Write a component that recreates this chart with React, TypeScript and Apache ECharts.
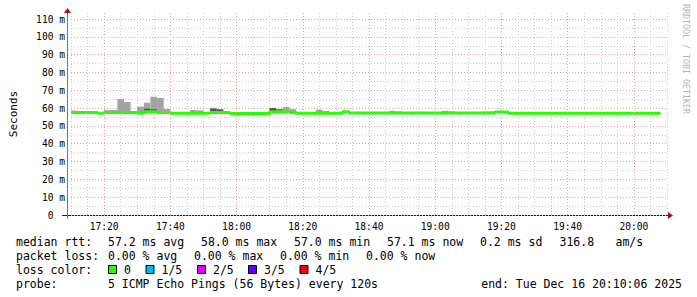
import React, { useEffect, useRef } from "react";
import * as echarts from "echarts";

// time axis in minutes after midnight; steps of 2 minutes (120 s probes)
const X_MIN = 1030; // 17:10
const X_MAX = 1210; // 20:10
const STEP_START = 1030;
const STEP_LEN = 2;
const Y_MAX = 113.4;
const MAJOR_TIMES = [1040, 1060, 1080, 1100, 1120, 1140, 1160, 1180, 1200];

// median rtt (ms) per 120 s step
const median = [
  57.5, 57.5, 57.5, 57.5, 57.1, 57.5, 57.5, 57.5, 57.5, 57.5,
  57.1, 58.0, 58.0, 57.5, 57.5, 57.1, 57.1, 57.1, 57.1, 57.1,
  57.1, 57.6, 57.6, 57.6, 57.0, 57.0, 57.0, 57.0, 57.0, 57.0,
  58.0, 58.0, 58.0, 57.5, 57.1, 57.1, 57.1, 57.1, 57.1, 57.1,
  57.1, 57.9, 57.2, 57.2, 57.2, 57.2, 57.2, 57.2, 57.2, 57.2,
  57.2, 57.2, 57.2, 57.2, 57.2, 57.2, 57.2, 57.2, 57.2, 57.2,
  57.2, 57.2, 57.2, 57.2, 57.8, 57.8, 57.1, 57.1, 57.1, 57.1,
  57.1, 57.1, 57.1, 57.1, 57.1, 57.1, 57.1, 57.1, 57.1, 57.1,
  57.1, 57.1, 57.1, 57.1, 57.1, 57.1, 57.1, 57.1, 57.1,
];
// lowest ping (ping 1 of 5)
const pingMin = [
  57.2, 57.2, 57.3, 57.2, 56.9, 57.2, 57.3, 57.2, 57.2, 57.3,
  56.9, 57.6, 57.7, 57.2, 57.2, 56.9, 56.9, 56.9, 56.9, 56.9,
  56.9, 57.3, 57.3, 57.3, 56.8, 56.8, 56.8, 56.8, 56.8, 56.8,
  57.6, 57.6, 57.7, 57.2, 56.9, 56.9, 56.9, 56.9, 56.9, 56.9,
  56.9, 57.6, 57.0, 57.0, 57.0, 57.0, 57.0, 57.0, 57.0, 57.0,
  57.0, 57.0, 57.0, 57.0, 57.0, 57.0, 57.0, 57.0, 57.0, 57.0,
  57.0, 57.0, 57.0, 57.0, 57.5, 57.5, 56.9, 56.9, 56.9, 56.9,
  56.9, 56.9, 56.9, 56.9, 56.9, 56.9, 56.9, 56.9, 56.9, 56.9,
  56.9, 56.9, 56.9, 56.9, 56.9, 56.9, 56.9, 56.9, 56.9,
];
// ping 2 of 5
const pingLow = [
  57.4, 57.4, 57.4, 57.4, 57.0, 57.4, 57.4, 57.4, 57.4, 57.4,
  57.0, 57.8, 57.9, 57.4, 57.4, 57.0, 57.0, 57.0, 57.0, 57.0,
  57.0, 57.4, 57.4, 57.5, 56.9, 56.9, 56.9, 56.9, 56.9, 56.9,
  57.8, 57.8, 57.9, 57.4, 57.0, 57.0, 57.0, 57.0, 57.0, 57.0,
  57.0, 57.8, 57.1, 57.1, 57.1, 57.1, 57.1, 57.1, 57.1, 57.1,
  57.1, 57.1, 57.1, 57.1, 57.1, 57.1, 57.1, 57.1, 57.1, 57.1,
  57.1, 57.1, 57.1, 57.1, 57.7, 57.7, 57.0, 57.0, 57.0, 57.0,
  57.0, 57.0, 57.0, 57.0, 57.0, 57.0, 57.0, 57.0, 57.0, 57.0,
  57.0, 57.0, 57.0, 57.0, 57.0, 57.0, 57.0, 57.0, 57.0,
];
// ping 4 of 5
const pingHigh = [
  57.7, 57.6, 57.6, 57.6, 57.3, 57.8, 57.8, 58.0, 57.9, 57.6,
  57.5, 59.6, 59.3, 58.1, 57.8, 57.3, 57.3, 57.3, 57.6, 57.5,
  57.3, 59.6, 59.2, 57.8, 57.2, 57.2, 57.2, 57.2, 57.2, 57.2,
  60.0, 59.3, 58.4, 57.8, 57.3, 57.3, 57.3, 57.6, 57.4, 57.3,
  57.3, 58.1, 57.4, 57.4, 57.3, 57.4, 57.4, 57.3, 57.6, 57.5,
  57.4, 57.3, 57.4, 57.4, 57.3, 57.4, 57.6, 57.5, 57.4, 57.3,
  57.4, 57.4, 57.5, 57.5, 58.0, 58.0, 57.3, 57.3, 57.4, 57.3,
  57.3, 57.3, 57.3, 57.3, 57.3, 57.3, 57.3, 57.3, 57.3, 57.3,
  57.3, 57.3, 57.3, 57.3, 57.3, 57.3, 57.3, 57.3, 57.3,
];
// highest ping (ping 5 of 5)
const pingMax = [
  58.6, 57.8, 57.8, 57.8, 57.5, 58.9, 59.0, 65.1, 63.4, 57.8,
  60.8, 63.0, 66.4, 65.7, 59.5, 57.5, 57.5, 57.5, 59.0, 58.7,
  57.5, 60.2, 59.5, 57.9, 57.4, 57.4, 57.3, 57.4, 57.4, 57.3,
  60.0, 59.3, 60.6, 59.4, 57.4, 57.4, 57.4, 59.1, 58.4, 57.4,
  57.4, 58.2, 57.5, 57.5, 57.4, 57.5, 57.5, 57.4, 58.5, 58.2,
  57.5, 57.4, 57.5, 57.5, 57.4, 57.5, 58.5, 58.2, 57.5, 57.4,
  57.5, 57.5, 58.1, 58.1, 58.1, 58.0, 57.4, 57.4, 57.5, 57.4,
  57.4, 57.5, 57.4, 57.4, 57.5, 57.4, 57.4, 57.4, 57.5, 57.4,
  57.4, 57.4, 57.5, 57.4, 57.4, 57.4, 57.5, 57.4, 57.4,
];

const legendRtt = [
  { text: "median rtt:", x: 16 },
  { text: "57.2 ms avg", x: 108 },
  { text: "58.0 ms max", x: 201 },
  { text: "57.0 ms min", x: 294 },
  { text: "57.1 ms now", x: 387 },
  { text: "0.2 ms sd", x: 480 },
  { text: "316.8", x: 559.5 },
  { text: "am/s", x: 615.5 },
];
const legendLoss = [
  { text: "packet loss:", x: 16 },
  { text: "0.00 % avg", x: 108 },
  { text: "0.00 % max", x: 194 },
  { text: "0.00 % min", x: 280 },
  { text: "0.00 % now", x: 366 },
];
const lossColors = [
  { label: "0", color: "#26ff00", x: 108.5 },
  { label: "1/5", color: "#00b8ff", x: 146 },
  { label: "2/5", color: "#dd00ff", x: 197.5 },
  { label: "3/5", color: "#5e00ff", x: 248.5 },
  { label: "4/5", color: "#ff0000", x: 300 },
];
const probeText = "5 ICMP Echo Pings (56 Bytes) every 120s";
const endText = "end: Tue Dec 16 20:10:06 2025";
const watermark = "RRDTOOL / TOBI OETIKER";

const MONO = "'DejaVu Sans Mono', monospace";
const fmtTime = (v: number) => {
  const r = Math.round(v);
  const h = Math.floor(r / 60);
  const m = r % 60;
  return `${h}:${String(m).padStart(2, "0")}`;
};

export default function App() {
  const ref = useRef<HTMLDivElement>(null);
  useEffect(() => {
    if (!ref.current) return;
    const chart = echarts.init(ref.current, undefined, { renderer: "svg" });

    const stepStart = (i: number) => STEP_START + i * STEP_LEN;
    const outer = median.map((_, i) => [stepStart(i), stepStart(i) + STEP_LEN, pingMin[i], pingMax[i]]);
    const inner = median.map((_, i) => [stepStart(i), stepStart(i) + STEP_LEN, pingLow[i], pingHigh[i]]);
    const medLine = median.map((v, i) => [stepStart(i), v]);
    medLine.push([stepStart(median.length), median[median.length - 1]]);

    const rectRender = (color: string) => (params: any, api: any) => {
      const a = api.coord([api.value(0), api.value(3)]);
      const b = api.coord([api.value(1), api.value(2)]);
      return {
        type: "rect",
        shape: { x: a[0], y: a[1], width: b[0] - a[0], height: b[1] - a[1] },
        style: { fill: color },
      };
    };

    const txt = (text: string, x: number, y: number, align = "left") => ({
      type: "text",
      x,
      y,
      style: {
        text,
        fill: "#000",
        font: `11.5px ${MONO}`,
        align,
        verticalAlign: "middle",
        textAlign: align,
        textVerticalAlign: "middle",
      },
    });

    const graphics: any[] = [];
    legendRtt.forEach((s) => graphics.push(txt(s.text, s.x, 241.5)));
    legendLoss.forEach((s) => graphics.push(txt(s.text, s.x, 255.5)));
    graphics.push(txt("loss color:", 16, 269.5));
    lossColors.forEach((c) => {
      graphics.push({
        type: "rect",
        shape: { x: c.x, y: 265.5, width: 8, height: 8 },
        style: { fill: c.color, stroke: "#000", lineWidth: 1 },
      });
      graphics.push(txt(c.label, c.x + 15.5, 269.5));
    });
    graphics.push(txt("probe:", 16, 283.5));
    graphics.push(txt(probeText, 108, 283.5));
    graphics.push(txt(endText, 682, 283.5, "right"));
    graphics.push({
      type: "text",
      x: 686,
      y: 59,
      rotation: -Math.PI / 2,
      style: {
        text: watermark,
        fill: "#b4b4b4",
        font: `8.3px ${MONO}`,
        align: "center",
        verticalAlign: "middle",
        textAlign: "center",
        textVerticalAlign: "middle",
      },
    });
    // axis lines (extended past the plot like rrdtool) and arrows
    graphics.push({ type: "line", shape: { x1: 62, y1: 215.5, x2: 668, y2: 215.5 }, style: { stroke: "#222", lineWidth: 1 } });
    graphics.push({ type: "line", shape: { x1: 67.5, y1: 219, x2: 67.5, y2: 12 }, style: { stroke: "#777", lineWidth: 1 } });
    graphics.push({ type: "polygon", shape: { points: [[668, 212], [668, 219], [673, 215.5]] }, style: { fill: "#a31515" } });
    graphics.push({ type: "polygon", shape: { points: [[64, 13], [71, 13], [67.5, 8]] }, style: { fill: "#a31515" } });

    const MAJOR = "#e8a0a0";
    const MINOR = "#cbcbcb";
    const dotted = [1, 2];
    const monoLabel = { fontFamily: MONO, fontSize: 9.6, color: "#000", margin: 6 };

    chart.setOption({
      animation: false,
      backgroundColor: "#ffffff",
      grid: { left: 67, right: 30, top: 13, bottom: 82 },
      xAxis: {
        type: "value",
        min: X_MIN,
        max: X_MAX,
        interval: 5,
        axisLine: { show: false },
        axisTick: { show: false },
        axisLabel: {
          ...monoLabel,
          formatter: (v: number) => (Math.round(v) % 20 === 0 ? fmtTime(v) : ""),
        },
        splitLine: { show: true, lineStyle: { color: MINOR, type: dotted, width: 1 } },
      },
      yAxis: [
        {
          type: "value",
          min: 0,
          max: Y_MAX,
          interval: 5,
          position: "left",
          axisLine: { show: false },
          axisTick: { show: false },
          axisLabel: { show: false },
          splitLine: { show: true, showMaxLine: false, lineStyle: { color: MINOR, type: dotted, width: 1 } },
          z: 0,
        },
        {
          type: "value",
          min: 0,
          max: Y_MAX,
          interval: 10,
          position: "left",
          offset: 0,
          name: "Seconds",
          nameLocation: "middle",
          nameRotate: 90,
          nameGap: 52,
          nameTextStyle: { fontFamily: MONO, fontSize: 11, color: "#000" },
          axisLine: { show: false },
          axisTick: { show: false },
          axisLabel: {
            ...monoLabel,
            formatter: (v: number) => {
              const r = Math.round(v * 10) / 10;
              if (r === 0) return "{z|0}";
              if (r % 10 === 0) return `${r} m`;
              return "";
            },
            rich: { z: { padding: [0, 11.5, 0, 0], fontFamily: MONO, fontSize: 9.6, color: "#000" } },
          },
          splitLine: { show: true, showMaxLine: false, lineStyle: { color: MAJOR, type: dotted, width: 1 } },
          z: 1,
        },
      ],
      series: [
        {
          type: "line",
          name: "major time grid",
          data: [],
          z: 1,
          silent: true,
          markLine: {
            silent: true,
            symbol: ["none", "none"],
            label: { show: false },
            lineStyle: { color: MAJOR, type: dotted, width: 1 },
            emphasis: { disabled: true },
            data: MAJOR_TIMES.map((v) => ({ xAxis: v })),
          },
        },
        {
          type: "custom",
          name: "smoke outer",
          renderItem: rectRender("#a3a3a3"),
          data: outer,
          encode: { x: [0, 1], y: [2, 3] },
          clip: true,
          z: 2,
        },
        {
          type: "custom",
          name: "smoke inner",
          renderItem: rectRender("#555555"),
          data: inner,
          encode: { x: [0, 1], y: [2, 3] },
          clip: true,
          z: 3,
        },
        {
          type: "line",
          name: "median rtt",
          data: medLine,
          step: "end",
          showSymbol: false,
          lineStyle: { color: "#26ff00", width: 3, cap: "butt" },
          z: 4,
        },
      ],
      graphic: graphics,
    });
    return () => chart.dispose();
  }, []);
  return (
    <div
      ref={ref}
      style={{ position: "absolute", left: 0, top: 0, width: 697, height: 297, background: "#fff" }}
    />
  );
}
